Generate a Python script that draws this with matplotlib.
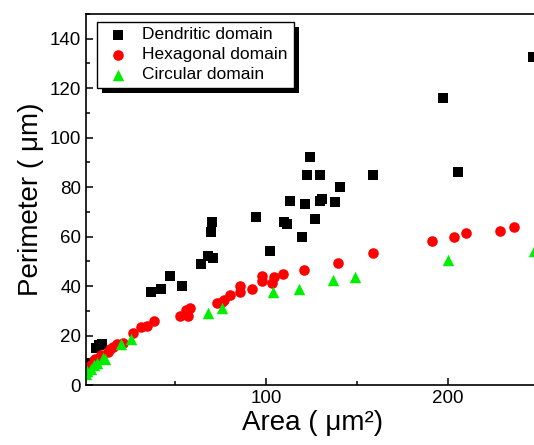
import matplotlib
matplotlib.use('Agg')
import matplotlib.pyplot as plt
from matplotlib.ticker import MultipleLocator
from matplotlib.patches import Rectangle
from matplotlib.transforms import IdentityTransform

plt.rcParams['font.family'] = ['Liberation Sans', 'DejaVu Sans']

# dendritic domain (black squares)
dend_x = [1.5, 2, 6.5, 8, 10, 37, 42, 47, 53.5, 64, 68, 71, 69.5, 70.5, 94.5, 102,
          110, 111.5, 113, 119.5, 121.5, 122.5, 124, 127, 129.5, 130.5, 129.5, 138,
          140.5, 159, 197, 205.5, 246.5]
dend_y = [6, 9, 15, 16, 16.5, 37.5, 39, 44, 40, 49, 52, 51.5, 62, 66, 68, 54,
          66, 65, 74.5, 60, 73, 85, 92, 67, 74.5, 75, 85, 74,
          80, 85, 116, 86, 132.5]

# hexagonal domain (red circles)
hex_x = [3, 5, 6, 9, 13, 14, 16, 18, 21.5, 27, 31.5, 34.5, 38.5, 52.5, 56, 57, 58,
         73, 75.5, 77, 80, 85.5, 85.5, 92.5, 97.5, 97.5, 103.5, 104.5, 109.5, 121,
         139.5, 158.5, 191, 203.5, 210, 228.5, 236]
hex_y = [7.5, 9.7, 10.5, 12, 13.5, 14.5, 15.5, 16.5, 17, 21, 23.5, 24, 26, 28, 30.4, 28, 31,
         33, 33.5, 34.5, 36.5, 37.5, 40, 39, 42, 44, 41.2, 43.5, 45, 46.5,
         49.5, 53.5, 58.3, 59.7, 61.3, 62.3, 63.7]

# circular domain (green triangles)
circ_x = [1, 1.5, 4, 5.5, 7, 10.5, 11.5, 20.5, 25.5, 68, 76, 104, 118, 137, 149, 200, 247]
circ_y = [4.5, 5.5, 6.5, 8, 9, 11, 10.5, 16.5, 18.5, 29, 31, 37.5, 39, 42.5, 43.5, 50.5, 54.3]

fig = plt.figure(figsize=(5.34, 4.45), dpi=100)
ax = fig.add_axes([86 / 534, 60 / 445, 453 / 534, 371 / 445])

ax.scatter(dend_x, dend_y, marker='s', s=44, color='black', linewidths=0, label='Dendritic domain')
ax.scatter(hex_x, hex_y, marker='o', s=58, color='#ff0000', linewidths=0, label='Hexagonal domain')
ax.scatter(circ_x, circ_y, marker='^', s=68, color='#00ee00', linewidths=0, label='Circular domain')

ax.set_xlim(1, 250)
ax.set_ylim(0, 150)
ax.xaxis.set_major_locator(MultipleLocator(100))
ax.xaxis.set_minor_locator(MultipleLocator(50))
ax.yaxis.set_major_locator(MultipleLocator(20))
ax.yaxis.set_minor_locator(MultipleLocator(10))
ax.tick_params(which='both', direction='in', labelsize=13.5, width=1.1)
ax.tick_params(which='major', length=5)
ax.tick_params(which='minor', length=3)
ax.tick_params(top=False, right=False, which='both')
for sp in ax.spines.values():
    sp.set_linewidth(1.2)

ax.set_xlabel('Area ( μm²)', fontsize=20, labelpad=2)
ax.set_ylabel('Perimeter ( μm)', fontsize=20, labelpad=4)

# legend box stretched to the width seen in the reference
leg = ax.legend(loc='upper left', mode='expand',
                bbox_to_anchor=(97 / 534, 1 - 88 / 445, 197 / 534, 66 / 445),
                bbox_transform=fig.transFigure, borderaxespad=0, fontsize=12.5,
                frameon=True, fancybox=False, edgecolor='black', framealpha=1,
                handlelength=1.8, handletextpad=0.5, borderpad=0.3, labelspacing=0.28)
leg.get_frame().set_linewidth(1.0)
leg.set_zorder(6)

# thick black drop shadow behind the legend
fig.canvas.draw()
bb = leg.get_frame().get_window_extent()
ax.add_patch(Rectangle((bb.x0 + 5, bb.y0 - 5), bb.width, bb.height,
                       transform=IdentityTransform(), facecolor='black',
                       edgecolor='none', zorder=5.5, clip_on=False))

fig.savefig('out.png', dpi=100)
